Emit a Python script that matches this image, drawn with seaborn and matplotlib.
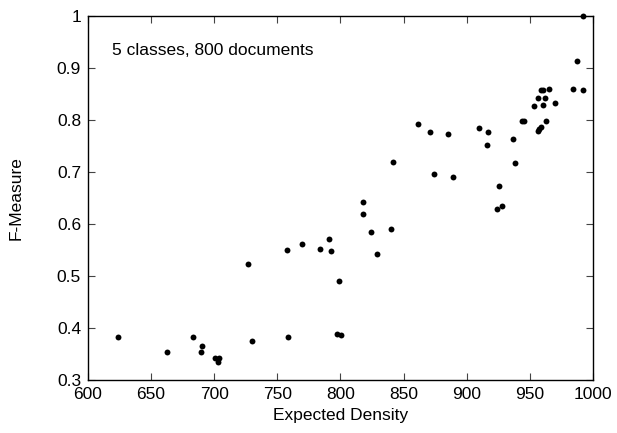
import matplotlib
matplotlib.use("Agg")
import matplotlib.pyplot as plt
import pandas as pd
import seaborn as sns

# Expected density vs. F-measure
expected_density = [
    624, 662.6, 683.2, 690.3, 689.8, 700.9, 703.5, 703, 726.7, 729.9,
    757.4, 758.2, 769.5, 784, 790.9, 792.2, 799, 797.5, 800.2, 818.1,
    818.1, 824.2, 828.7, 840, 841.8, 861.4, 870.6, 874.3, 885.1, 889.1,
    910, 916.8, 916.3, 924, 928.2, 925.5, 936.6, 938, 944, 945.6,
    953, 956.7, 958.6, 960.7, 964.9, 962.2, 960.4, 962.5, 958.6, 957.5,
    956.4, 970.2, 983.9, 991.8, 987.6, 991.8,
]
f_measure = [
    0.383, 0.353, 0.383, 0.365, 0.354, 0.342, 0.342, 0.335, 0.522, 0.374,
    0.550, 0.383, 0.561, 0.551, 0.570, 0.547, 0.491, 0.388, 0.387, 0.643,
    0.619, 0.584, 0.543, 0.591, 0.719, 0.792, 0.776, 0.695, 0.772, 0.691,
    0.784, 0.777, 0.752, 0.628, 0.634, 0.672, 0.764, 0.717, 0.798, 0.798,
    0.827, 0.841, 0.857, 0.857, 0.859, 0.841, 0.828, 0.797, 0.786, 0.782,
    0.778, 0.833, 0.859, 0.858, 0.913, 1.0,
]
x_ticks = [600, 650, 700, 750, 800, 850, 900, 950, 1000]
y_ticks = [0.3, 0.4, 0.5, 0.6, 0.7, 0.8, 0.9, 1.0]
y_tick_labels = ["0.3", "0.4", "0.5", "0.6", "0.7", "0.8", "0.9", "1"]

df = pd.DataFrame({"Expected Density": expected_density, "F-Measure": f_measure})

sns.set_style("ticks")
plt.rcParams["font.family"] = ["Liberation Sans", "DejaVu Sans"]
# plain black text like the original
plt.rcParams["text.color"] = "black"
plt.rcParams["axes.labelcolor"] = "black"
plt.rcParams["xtick.labelcolor"] = "black"
plt.rcParams["ytick.labelcolor"] = "black"

fig = plt.figure(figsize=(6.17, 4.33), dpi=100)
ax = fig.add_axes([0.1426, 0.1224, 0.8184, 0.8413])

sns.scatterplot(data=df, x="Expected Density", y="F-Measure", ax=ax,
                color="black", s=18, edgecolor="black", linewidth=0,
                clip_on=False, zorder=5)

ax.set_xlim(600, 1000)
ax.set_ylim(0.3, 1.0)
ax.set_xticks(x_ticks)
ax.set_yticks(y_ticks)
ax.set_yticklabels(y_tick_labels)
ax.tick_params(direction="in", top=True, right=True, length=5,
               labelsize=12.5, color="#444444", labelcolor="black", pad=5)
for sp in ax.spines.values():
    sp.set_color("black")
    sp.set_linewidth(1.0)

ax.set_xlabel("Expected Density", fontsize=12.5, labelpad=4)
ax.set_ylabel("F-Measure", fontsize=12.5, labelpad=24)
ax.text(0.047, 0.905, "5 classes, 800 documents", transform=ax.transAxes,
        fontsize=12.5, va="center", ha="left", color="black")

fig.savefig("out.png", dpi=100)
